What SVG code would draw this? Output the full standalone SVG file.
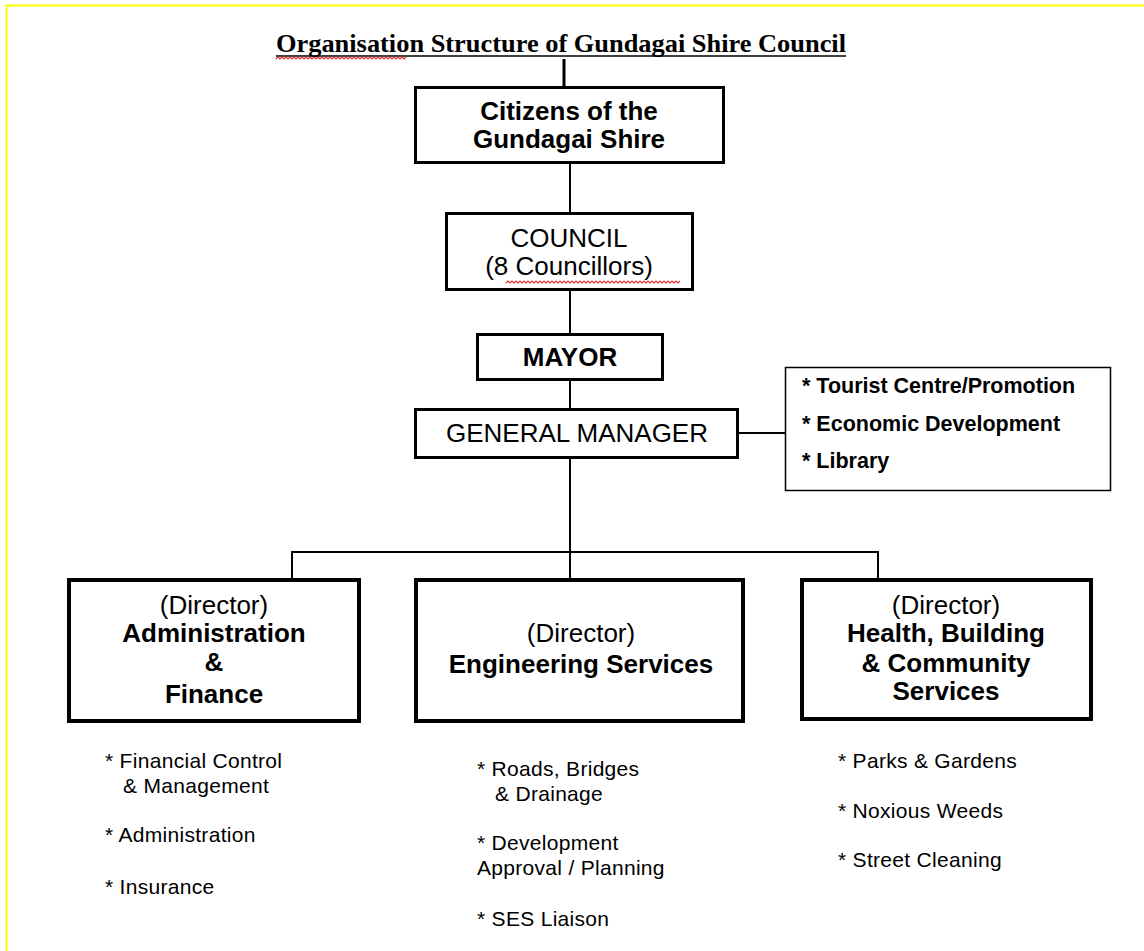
<svg xmlns="http://www.w3.org/2000/svg" width="1144" height="951" viewBox="0 0 1144 951">
<style>
.box{fill:#fff;stroke:#000;stroke-width:3}
.boxb{fill:#fff;stroke:#000;stroke-width:4}
.thin{fill:#fff;stroke:#000;stroke-width:1.5}
.ln{stroke:#000;stroke-width:2;fill:none}
.t{font-family:"Liberation Sans",Arial,sans-serif;font-size:26px;fill:#000;text-anchor:middle}
.b{font-weight:bold}
.s{font-family:"Liberation Sans",Arial,sans-serif;font-size:21px;letter-spacing:0.3px;fill:#000}
.sb{font-family:"Liberation Sans",Arial,sans-serif;font-size:21.5px;font-weight:bold;fill:#000}
.sq{stroke:#e03030;stroke-width:1.2;fill:none}
</style>
<rect width="1144" height="951" fill="#fff"/>
<path d="M6.5 951 V5.5 H1144" stroke="#ffff00" stroke-width="2" fill="none"/>

<g id="title">
<text x="561" y="52" font-family="'Liberation Serif','Times New Roman',serif" font-size="26" font-weight="bold" text-anchor="middle" textLength="570" lengthAdjust="spacingAndGlyphs">Organisation Structure of Gundagai Shire Council</text>
<line x1="276" y1="56" x2="846" y2="56" stroke="#000" stroke-width="1.5"/>
<path class="sq" d="M276 59 l2 -2 l2 2 l2 -2 l2 2 l2 -2 l2 2 l2 -2 l2 2 l2 -2 l2 2 l2 -2 l2 2 l2 -2 l2 2 l2 -2 l2 2 l2 -2 l2 2 l2 -2 l2 2 l2 -2 l2 2 l2 -2 l2 2 l2 -2 l2 2 l2 -2 l2 2 l2 -2 l2 2 l2 -2 l2 2 l2 -2 l2 2 l2 -2 l2 2 l2 -2 l2 2 l2 -2 l2 2 l2 -2 l2 2 l2 -2 l2 2 l2 -2 l2 2 l2 -2 l2 2 l2 -2 l2 2 l2 -2 l2 2 l2 -2 l2 2 l2 -2 l2 2 l2 -2 l2 2 l2 -2 l2 2 l2 -2 l2 2 l2 -2 l2 2 l2 -2"/>
</g>

<g id="connectors">
<line x1="564" y1="59" x2="564" y2="86" stroke="#000" stroke-width="3"/>
<line class="ln" x1="570" y1="163" x2="570" y2="212"/>
<line class="ln" x1="570" y1="290" x2="570" y2="334"/>
<line class="ln" x1="570" y1="380" x2="570" y2="409"/>
<line class="ln" x1="738" y1="433" x2="785" y2="433"/>
<line class="ln" x1="570" y1="458" x2="570" y2="580"/>
<polyline class="ln" points="292,580 292,552 878,552 878,580"/>
</g>

<g id="citizens">
<rect class="box" x="415.5" y="87.5" width="308" height="75"/>
<text class="t b" x="569" y="120">Citizens of the</text>
<text class="t b" x="569" y="148">Gundagai Shire</text>
</g>

<g id="council">
<rect class="box" x="446.5" y="213.5" width="246" height="76"/>
<text class="t" x="569" y="247">COUNCIL</text>
<text class="t" x="569" y="275">(8 Councillors)</text>
<path class="sq" d="M506 283 l2 -2 l2 2 l2 -2 l2 2 l2 -2 l2 2 l2 -2 l2 2 l2 -2 l2 2 l2 -2 l2 2 l2 -2 l2 2 l2 -2 l2 2 l2 -2 l2 2 l2 -2 l2 2 l2 -2 l2 2 l2 -2 l2 2 l2 -2 l2 2 l2 -2 l2 2 l2 -2 l2 2 l2 -2 l2 2 l2 -2 l2 2 l2 -2 l2 2 l2 -2 l2 2 l2 -2 l2 2 l2 -2 l2 2 l2 -2 l2 2 l2 -2 l2 2 l2 -2 l2 2 l2 -2 l2 2 l2 -2 l2 2 l2 -2 l2 2 l2 -2 l2 2 l2 -2 l2 2 l2 -2 l2 2 l2 -2 l2 2 l2 -2 l2 2 l2 -2 l2 2 l2 -2 l2 2 l2 -2 l2 2 l2 -2 l2 2 l2 -2 l2 2 l2 -2 l2 2 l2 -2 l2 2 l2 -2 l2 2 l2 -2 l2 2 l2 -2 l2 2 l2 -2 l2 2 l2 -2"/>
</g>

<g id="mayor">
<rect class="box" x="477.5" y="334.5" width="185" height="45"/>
<text class="t b" x="570" y="366">MAYOR</text>
</g>

<g id="general-manager">
<rect class="box" x="415.5" y="409.5" width="322" height="48"/>
<text class="t" x="577" y="442" font-size="26.5">GENERAL MANAGER</text>
</g>

<g id="gm-units">
<rect class="thin" x="785.5" y="367.5" width="325" height="123"/>
<text class="sb" x="802" y="393">* Tourist Centre/Promotion</text>
<text class="sb" x="802" y="431">* Economic Development</text>
<text class="sb" x="802" y="468">* Library</text>
</g>

<g id="dir-admin">
<rect class="boxb" x="69" y="580" width="290" height="141"/>
<text class="t" x="214" y="614">(Director)</text>
<text class="t b" x="214" y="642">Administration</text>
<text class="t b" x="214" y="671">&amp;</text>
<text class="t b" x="214" y="703">Finance</text>
<text class="s" x="105" y="768">* Financial Control</text>
<text class="s" x="123" y="793">&amp; Management</text>
<text class="s" x="105" y="842">* Administration</text>
<text class="s" x="105" y="894">* Insurance</text>
</g>

<g id="dir-eng">
<rect class="boxb" x="416" y="580" width="327" height="141"/>
<text class="t" x="581" y="642">(Director)</text>
<text class="t b" x="581" y="673">Engineering Services</text>
<text class="s" x="477" y="776">* Roads, Bridges</text>
<text class="s" x="495" y="801">&amp; Drainage</text>
<text class="s" x="477" y="850">* Development</text>
<text class="s" x="477" y="875">Approval / Planning</text>
<text class="s" x="477" y="926">* SES Liaison</text>
</g>

<g id="dir-health">
<rect class="boxb" x="802" y="580" width="289" height="139"/>
<text class="t" x="946" y="614">(Director)</text>
<text class="t b" x="946" y="642">Health, Building</text>
<text class="t b" x="946" y="672">&amp; Community</text>
<text class="t b" x="946" y="700">Services</text>
<text class="s" x="838" y="768">* Parks &amp; Gardens</text>
<text class="s" x="838" y="818">* Noxious Weeds</text>
<text class="s" x="838" y="867">* Street Cleaning</text>
</g>
</svg>
